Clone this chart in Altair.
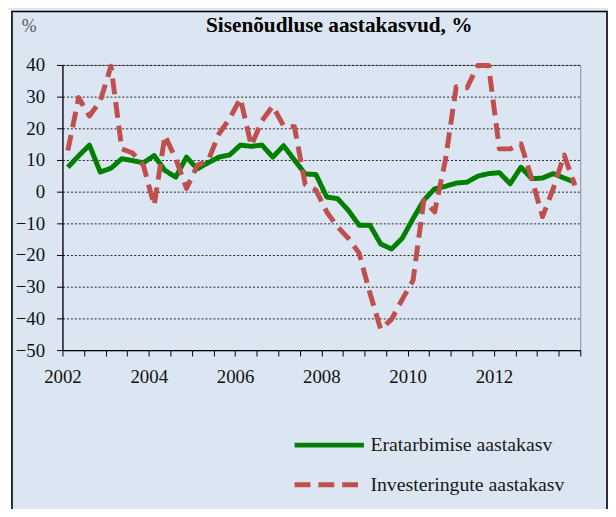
import altair as alt
import pandas as pd

# ---- data (quarterly, 2002Q1 .. 2013Q4) ----
years = list(range(2002, 2014))
quarters = [1, 2, 3, 4]
series_names = ["Eratarbimise aastakasv", "Investeringute aastakasv"]
eratarbimine = [7.7, 11.3, 14.7, 6.2, 7.4, 10.4, 9.8, 9.1, 11.4, 6.7, 4.6, 10.9,
                7.2, 9.1, 10.9, 11.6, 14.7, 14.3, 14.7, 10.9, 14.5, 10.0, 5.6, 5.4,
                -1.7, -2.2, -5.9, -10.6, -10.6, -16.5, -18.1, -14.7, -8.5, -2.7, 0.9, 1.7,
                2.7, 3.0, 4.9, 5.7, 6.0, 2.5, 7.7, 4.1, 4.3, 5.7, 4.3, 3.0]
investeeringud = [13.0, 29.7, 23.9, 28.6, 39.6, 13.5, 12.2, 8.3, -4.3, 17.7, 10.4, 1.0,
                  8.3, 9.8, 18.2, 23.1, 29.4, 14.5, 22.4, 27.0, 20.8, 20.5, 2.3, 0.5,
                  -6.4, -11.1, -14.7, -19.4, -32.0, -43.4, -40.3, -34.0, -28.0, -2.7, -6.4, 10.0,
                  33.1, 32.8, 39.8, 39.8, 13.5, 13.5, 15.1, 4.1, -7.9, 1.0, 11.6, 2.0]
x_ticks = [2002 + 0.5 * k for k in range(25)]
x_labels = [2002, 2004, 2006, 2008, 2010, 2012]
y_ticks = list(range(-50, 41, 10))
colors = ["#008000", "#c0504d"]
dashes = [[1, 0], [16, 8]]

rows = []
for i, (a, b) in enumerate(zip(eratarbimine, investeeringud)):
    t = years[i // 4] + (quarters[i % 4] - 0.5) / 4
    rows.append({"t": t, "v": a, "s": series_names[0]})
    rows.append({"t": t, "v": b, "s": series_names[1]})
df = pd.DataFrame(rows)

FONT = "Liberation Serif"
label_expr = "indexof([%s], datum.value) >= 0 ? format(datum.value, 'd') : ''" % ",".join(str(v) for v in x_labels)

legend = alt.Legend(
    title=None, orient="none", legendX=259.5, legendY=374, direction="vertical",
    symbolType="M-5,0H5", symbolSize=196, symbolStrokeWidth=5,
    labelFont=FONT, labelFontSize=20, labelColor="#1a1a1a", labelOffset=31.5,
    labelLimit=400, rowPadding=20, padding=0,
)

lines = alt.Chart(df).mark_line(strokeWidth=5, strokeCap="butt", strokeJoin="round").encode(
    x=alt.X("t:Q", scale=alt.Scale(domain=[2002, 2014], nice=False, zero=False),
            axis=alt.Axis(values=x_ticks, labelExpr=label_expr, grid=False, title=None,
                          tickSize=6, tickColor="black", domainColor="black", domainWidth=1.2,
                          labelFont=FONT, labelFontSize=19, labelColor="#111111",
                          labelPadding=12, labelFlush=False, labelOverlap=False)),
    y=alt.Y("v:Q", scale=alt.Scale(domain=[-50, 40], nice=False),
            axis=alt.Axis(values=y_ticks, title="%", titleAngle=0, titleX=-34, titleY=-39,
                          titleAlign="center", titleBaseline="middle", titleFont=FONT,
                          titleFontSize=18, titleFontWeight="normal", titleColor="#555555",
                          tickSize=6, tickColor="black", domainColor="black", domainWidth=1.2,
                          labelFont=FONT, labelFontSize=19, labelColor="#111111",
                          labelPadding=12, grid=True, gridColor="#000000", gridDash=[2, 2],
                          gridWidth=1, gridOpacity=0.85)),
    color=alt.Color("s:N", scale=alt.Scale(domain=series_names, range=colors), legend=legend),
    strokeDash=alt.StrokeDash("s:N", scale=alt.Scale(domain=series_names, range=dashes), legend=legend),
)

one = pd.DataFrame({"k": [0]})
frame = alt.Chart(one).mark_rect(filled=False, stroke="black", strokeWidth=1.6).encode(
    x=alt.value(-51), x2=alt.value(550), y=alt.value(-54), y2=alt.value(470)
)
strip = alt.Chart(one).mark_rect(fill="white").encode(
    x=alt.value(-56), x2=alt.value(-51.8), y=alt.value(-56), y2=alt.value(470)
)

chart = alt.layer(strip, frame, lines).properties(
    width=523, height=288,
    autosize=alt.AutoSizeParams(type="none"),
    padding={"left": 55, "top": 55, "right": 28, "bottom": 158},
    title=alt.TitleParams("Sisenõudluse  aastakasvud, %", font=FONT, fontSize=21.5,
                          fontWeight="bold", color="black", anchor="middle", frame="group",
                          offset=-44.5, baseline="alphabetic", dx=18),
).configure(background="#dce6f2").configure_view(stroke="#8c8c8c", strokeWidth=1)

chart.save("out.html", embed_options={"renderer": "svg", "actions": False})
